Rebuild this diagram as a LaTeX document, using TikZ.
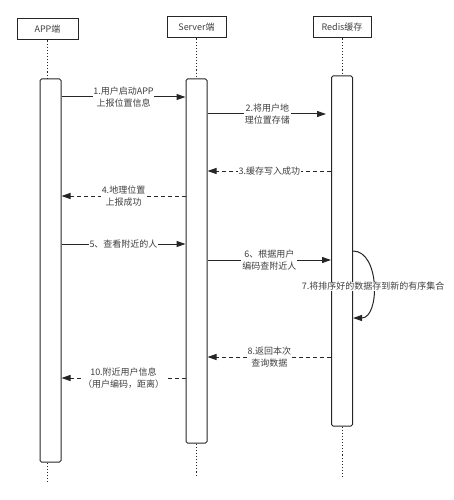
\documentclass[tikz,border=0pt]{standalone}
\usepackage{fontspec}
\setmainfont{Noto Sans CJK SC}
\usepackage{tikz}
\usetikzlibrary{positioning,calc,arrows.meta}

\begin{document}
\begin{tikzpicture}[x=1pt,y=-1pt,line width=1pt,
    font=\fontsize{9}{12.5}\selectfont,
    every node/.style={text=black!75},
    header/.style={draw=black!85,minimum height=21pt,inner sep=1pt},
    actbox/.style={draw=black!85,rounded corners=1.5pt,minimum width=21pt,inner sep=0pt},
    lifeline/.style={draw=black!85,dash pattern=on 1.1pt off 2pt},
    msg/.style={draw=black!85,-{Triangle[length=9pt,width=6pt]}},
    reply/.style={msg,dash pattern=on 4pt off 3pt},
    msglabel/.style={fill=white,inner sep=0.8pt,align=center}]
    \useasboundingbox (0,0) rectangle (454,500);
    % participants
    \node[header,minimum width=61pt] (apphead) at (47.5,29.5) {APP端};
    \node[header,minimum width=59pt] (srvhead) at (196.5,27.5) {Server端};
    \node[header,minimum width=58pt] (redhead) at (342,27.5) {Redis缓存};
    % activations
    \node[actbox,minimum height=383pt] (appact) at (50.5,270.5) {};
    \node[actbox,minimum height=364pt] (srvact) at (196.5,261) {};
    \node[actbox,minimum height=350pt] (redact) at (342,251) {};
    % lifelines
    \draw[lifeline] (apphead.south) -- (apphead.south |- appact.north);
    \draw[lifeline] (srvhead.south) -- (srvhead.south |- srvact.north);
    \draw[lifeline] (redhead.south) -- (redhead.south |- redact.north);
    \draw[lifeline] (apphead.south |- appact.south) -- ++(0,21);
    \draw[lifeline] (srvhead.south |- srvact.south) -- ++(0,34);
    \draw[lifeline] (redhead.south |- redact.south) -- ++(0,51);
    % messages
    \draw[msg] (appact.east |- 0,97) -- (srvact.west |- 0,97)
        node[msglabel,midway] {1.用户启动APP\\上报位置信息};
    \draw[msg,shorten >=5pt] (srvact.east |- 0,114) -- (redact.west |- 0,114)
        node[msglabel,midway,xshift=-2pt] {2.将用户地\\理位置存储};
    \draw[reply] (redact.west |- 0,171) -- (srvact.east |- 0,171)
        node[msglabel,midway] {3.缓存写入成功};
    \draw[reply] (srvact.west |- 0,196) -- (appact.east |- 0,196)
        node[msglabel,midway] {4.地理位置\\上报成功};
    \draw[msg] (appact.east |- 0,244) -- (srvact.west |- 0,244)
        node[msglabel,midway] {5、查看附近的人};
    \draw[msg] (srvact.east |- 0,260) -- (redact.west |- 0,260)
        node[msglabel,midway] {6、根据用户\\编码查附近人};
    \draw[msg] (redact.east |- 0,251) .. controls +(27,0) and +(27,0) .. (redact.east |- 0,318)
        node[msglabel,pos=0.52] {7.将排序好的数据存到新的有序集合};
    \draw[reply] (redact.west |- 0,357) -- (srvact.east |- 0,357)
        node[msglabel,midway] {8.返回本次\\查询数据};
    \draw[reply] (srvact.west |- 0,378) -- (appact.east |- 0,378)
        node[msglabel,midway] {10.附近用户信息\\（用户编码，距离）};
\end{tikzpicture}
\end{document}
